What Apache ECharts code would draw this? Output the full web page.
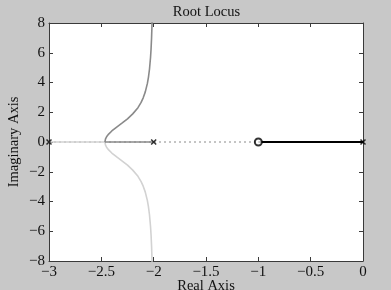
<!DOCTYPE html>
<html><head><meta charset="utf-8">
<script src="https://cdn.jsdelivr.net/npm/echarts@6/dist/echarts.min.js"></script>
<style>html,body{margin:0;padding:0;background:#c8c8c8}#c{width:391px;height:290px}</style>
</head><body><div id="c"></div>
<script>
const titleText = 'Root Locus';
const xLabel = 'Real Axis';
const yLabel = 'Imaginary Axis';
const xTicks = [-3, -2.5, -2, -1.5, -1, -0.5, 0];
const yTicks = [-8, -6, -4, -2, 0, 2, 4, 6, 8];
// complex branch
const branchRe = [-2.4656, -2.46, -2.45, -2.43, -2.4, -2.35, -2.3, -2.25, -2.2, -2.15, -2.12, -2.1, -2.08, -2.06, -2.05, -2.04, -2.03, -2.025, -2.02, -2.015];
const upperIm = [0, 0.21, 0.35, 0.53, 0.74, 1.02, 1.28, 1.56, 1.89, 2.31, 2.66, 2.97, 3.37, 3.94, 4.35, 4.89, 5.68, 6.24, 7.0, 8.1];
const lowerIm = [0, -0.21, -0.35, -0.53, -0.74, -1.02, -1.28, -1.56, -1.89, -2.31, -2.66, -2.97, -3.37, -3.94, -4.35, -4.89, -5.68, -6.24, -7.0, -8.1];
// real-axis segments
const lightRealRe = [-3, -2.4656];
const midRealRe = [-2, -2.4656];
const blackRealRe = [0, -1];
const axisDotRe = [-3, 0];
const polesRe = [-3, -2, 0];
const zerosRe = [-1];

const fmt = v => String(v).replace('-', '\u2212');
const font = 'Liberation Serif';
const pairs = (xs, ys) => xs.map((x, i) => [x, ys[i]]);
const zeroPairs = xs => xs.map(x => [x, 0]);

const chart = echarts.init(document.getElementById('c'), null, {renderer: 'canvas'});
const axisLine = {show: true, onZero: false, lineStyle: {color: '#3a3a3a', width: 1}};
const tick = {show: true, inside: true, length: 4, lineStyle: {color: '#3a3a3a'}};
const labelStyle = {formatter: fmt, fontFamily: font, fontSize: 15, color: '#111', showMinLabel: true, showMaxLabel: true};
chart.setOption({
  backgroundColor: '#c8c8c8',
  animation: false,
  title: {text: titleText, left: 201.5, top: 0, textAlign: 'center',
    textStyle: {fontFamily: font, fontSize: 14.5, fontWeight: 'normal', color: '#111'}},
  grid: {left: 49, top: 23, width: 314, height: 238, show: true, backgroundColor: '#fff', borderWidth: 0, outerBoundsMode: 'none', containLabel: false},
  xAxis: [
    {type: 'value', min: -3, max: 0, interval: 0.5, position: 'bottom',
      name: xLabel, nameLocation: 'middle', nameGap: 18, nameMoveOverlap: false,
      nameTextStyle: {fontFamily: font, fontSize: 14.5, color: '#111', lineHeight: 14.5, verticalAlign: 'top'},
      axisLine, axisTick: tick, splitLine: {show: false},
      axisLabel: Object.assign({}, labelStyle, {margin: 4})},
    {type: 'value', min: -3, max: 0, interval: 0.5, position: 'top',
      axisLine, axisTick: tick, splitLine: {show: false}, axisLabel: {show: false}}
  ],
  yAxis: [
    {type: 'value', min: -8, max: 8, interval: 2, position: 'left',
      name: yLabel, nameLocation: 'middle', nameGap: 27, nameRotate: 90, nameMoveOverlap: false,
      nameTextStyle: {fontFamily: font, fontSize: 14.5, color: '#111'},
      axisLine, axisTick: tick, splitLine: {show: false},
      axisLabel: Object.assign({}, labelStyle, {margin: 4})},
    {type: 'value', min: -8, max: 8, interval: 2, position: 'right',
      axisLine, axisTick: tick, splitLine: {show: false}, axisLabel: {show: false}}
  ],
  series: [
    {type: 'line', data: zeroPairs(axisDotRe), symbol: 'none', lineStyle: {color: '#8a8a8a', width: 1, type: [2, 3]}, z: 1},
    {type: 'line', data: zeroPairs(lightRealRe), symbol: 'none', lineStyle: {color: '#d2d2d2', width: 1.6}, z: 2},
    {type: 'line', data: pairs(branchRe, lowerIm), symbol: 'none', lineStyle: {color: '#d2d2d2', width: 1.6}, z: 2},
    {type: 'line', data: zeroPairs(midRealRe), symbol: 'none', lineStyle: {color: '#8a8a8a', width: 1.6}, z: 3},
    {type: 'line', data: pairs(branchRe, upperIm), symbol: 'none', lineStyle: {color: '#8a8a8a', width: 1.6}, z: 3},
    {type: 'line', data: zeroPairs(blackRealRe), symbol: 'none', lineStyle: {color: '#000', width: 2.2}, z: 4},
    {type: 'scatter', data: zeroPairs(polesRe), symbol: 'path://M0,0L10,10M10,0L0,10', symbolSize: 5,
      itemStyle: {color: 'none', borderColor: '#000', borderWidth: 1.5}, z: 5},
    {type: 'scatter', data: zeroPairs(zerosRe), symbol: 'circle', symbolSize: 7,
      itemStyle: {color: '#fff', borderColor: '#000', borderWidth: 2}, z: 5}
  ]
});
</script></body></html>
